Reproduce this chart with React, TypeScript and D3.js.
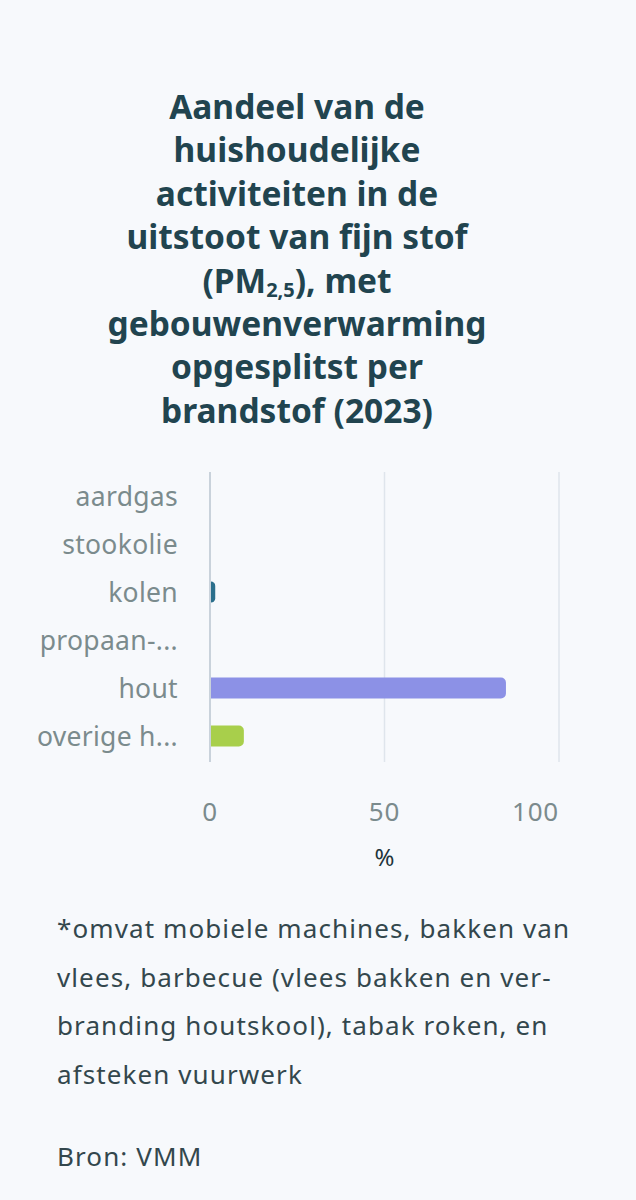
import React, { useEffect } from 'react';
import * as d3 from 'd3';

const categories = ['aardgas', 'stookolie', 'kolen', 'propaan-...', 'hout', 'overige h...'];
const values = [0.1, 0.1, 1.5, 0.05, 84.8, 9.7];
const barColors = ['#2b6f8c', '#2b6f8c', '#2b6f8c', '#2b6f8c', '#8c91e6', '#a8cf4b'];
const xTicks = [0, 50, 100];
const xAxisTitle = '%';
const titleLines = [
  'Aandeel van de',
  'huishoudelijke',
  'activiteiten in de',
  'uitstoot van fijn stof',
  '(PM|2,5|), met',
  'gebouwenverwarming',
  'opgesplitst per',
  'brandstof (2023)',
];
const footnoteLines = [
  '*omvat mobiele machines, bakken van',
  'vlees, barbecue (vlees bakken en ver-',
  'branding houtskool), tabak roken, en',
  'afsteken vuurwerk',
];
const sourceText = 'Bron: VMM';

const W = 636;
const H = 1200;
const FONT = "'Noto Sans', 'Open Sans', sans-serif";

function barPath(x0: number, x1: number, y: number, h: number, r: number) {
  const w = Math.max(0, x1 - x0);
  const rr = Math.min(r, w, h / 2);
  const p = d3.path();
  p.moveTo(x0, y);
  p.lineTo(x0 + w - rr, y);
  p.arcTo(x0 + w, y, x0 + w, y + rr, rr);
  p.lineTo(x0 + w, y + h - rr);
  p.arcTo(x0 + w, y + h, x0 + w - rr, y + h, rr);
  p.lineTo(x0, y + h);
  p.closePath();
  return p.toString();
}

export default function App() {
  useEffect(() => {
    document.body.style.margin = '0';
    document.body.style.background = '#f7f9fc';
  }, []);

  const x = d3.scaleLinear().domain([0, 100]).range([210, 559]);
  const y = d3.scaleBand<string>().domain(categories).range([472, 760]).paddingInner(0.56).paddingOuter(0.28);

  return (
    <svg width={W} height={H} style={{ position: 'absolute', left: 0, top: 0, display: 'block' }}>
      <rect x={0} y={0} width={W} height={H} fill="#f7f9fc" />
      <g fontFamily={FONT} fontWeight={700} fontSize={33.5} fill="#21444f" textAnchor="middle">
        {titleLines.map((line, i) => {
          const parts = line.split('|');
          return (
            <text key={i} x={297} y={119 + i * 43.4}>
              {parts.length === 1
                ? line
                : [
                    <tspan key="a">{parts[0]}</tspan>,
                    <tspan key="b" fontSize={20} dy={4}>{parts[1]}</tspan>,
                    <tspan key="c" dy={-4}>{parts[2]}</tspan>,
                  ]}
            </text>
          );
        })}
      </g>
      <g>
        {xTicks.map((t) => (
          <line
            key={t}
            x1={x(t)}
            x2={x(t)}
            y1={472}
            y2={762}
            stroke={t === 0 ? '#c9d2db' : '#dfe5ec'}
            strokeWidth={t === 0 ? 2 : 1.5}
          />
        ))}
      </g>
      <g>
        {categories.map((c, i) => (
          <path
            key={c}
            d={barPath(x(0) + 1, x(values[i]), y(c)!, y.bandwidth(), 5)}
            fill={barColors[i]}
          />
        ))}
      </g>
      <g fontFamily={FONT} fontSize={26.5} letterSpacing={0.3} fill="#7b8b8d" textAnchor="end">
        {categories.map((c) => (
          <text key={c} x={178} y={y(c)! + y.bandwidth() / 2} dy="0.36em">
            {c}
          </text>
        ))}
      </g>
      <g fontFamily={FONT} fontSize={26} letterSpacing={0.8} fill="#7b8b8d">
        {xTicks.map((t, i) => (
          <text key={t} x={x(t)} y={821} textAnchor={i === xTicks.length - 1 ? 'end' : 'middle'}>
            {t}
          </text>
        ))}
      </g>
      <text x={x(50)} y={866} textAnchor="middle" fontFamily={FONT} fontSize={24} fill="#22343a">
        {xAxisTitle}
      </text>
      <g fontFamily={FONT} fontSize={26} letterSpacing={1.1} fill="#33474d">
        {footnoteLines.map((l, i) => (
          <text key={i} x={57} y={938 + i * 48.5}>
            {l}
          </text>
        ))}
        <text x={57} y={1166}>{sourceText}</text>
      </g>
    </svg>
  );
}
